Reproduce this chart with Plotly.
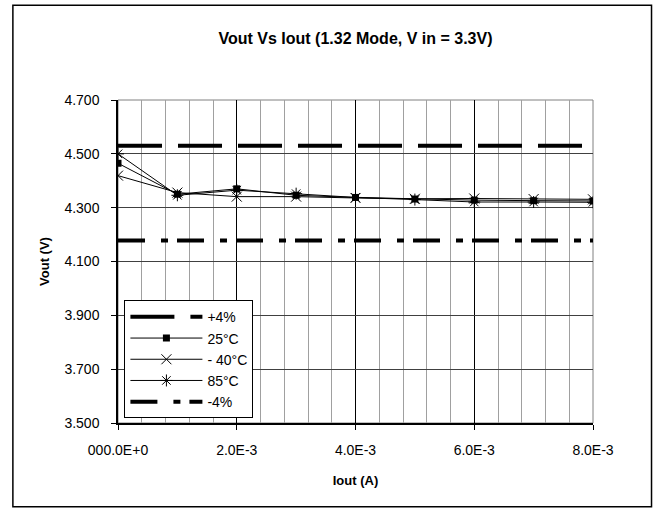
import plotly.graph_objects as go

# ---- data ----
iout = [0.0, 0.001, 0.002, 0.003, 0.004, 0.005, 0.006, 0.007, 0.008]
v_25c = [4.465, 4.350, 4.370, 4.346, 4.338, 4.332, 4.328, 4.326, 4.325]
v_m40c = [4.419, 4.356, 4.341, 4.341, 4.336, 4.333, 4.334, 4.332, 4.331]
v_85c = [4.500, 4.346, 4.365, 4.352, 4.338, 4.330, 4.321, 4.321, 4.320]
limit_x = [0.0, 0.008]
plus4 = [4.530, 4.530]
minus4 = [4.178, 4.178]

x_tickvals = [0.0, 0.002, 0.004, 0.006, 0.008]
x_ticktext = ["000.0E+0", "2.0E-3", "4.0E-3", "6.0E-3", "8.0E-3"]
y_tickvals = [3.5, 3.7, 3.9, 4.1, 4.3, 4.5, 4.7]
y_ticktext = ["3.500", "3.700", "3.900", "4.100", "4.300", "4.500", "4.700"]

FONT = "Liberation Sans, Arial, sans-serif"

fig = go.Figure()
fig.add_trace(go.Scatter(x=limit_x, y=plus4, mode="lines", name="+4%",
                         line=dict(color="black", width=4, dash="44px,16px")))
fig.add_trace(go.Scatter(x=iout, y=v_25c, mode="lines+markers", name="25°C",
                         line=dict(color="black", width=1),
                         marker=dict(symbol="square", size=7, color="black")))
fig.add_trace(go.Scatter(x=iout, y=v_m40c, mode="lines+markers", name="- 40°C",
                         line=dict(color="black", width=1),
                         marker=dict(symbol="x-thin-open", size=10, color="black",
                                     line=dict(color="black", width=1))))
fig.add_trace(go.Scatter(x=iout, y=v_85c, mode="lines+markers", name="85°C",
                         line=dict(color="black", width=1),
                         marker=dict(symbol="asterisk-open", size=10, color="black",
                                     line=dict(color="black", width=1))))
fig.add_trace(go.Scatter(x=limit_x, y=minus4, mode="lines", name="-4%",
                         line=dict(color="black", width=4, dash="27px,16px,7px,9px")))

# plot-area border (grey) and outer chart border (black)
fig.add_shape(type="rect", xref="paper", yref="paper", x0=0, x1=1, y0=0, y1=1,
              line=dict(color="#808080", width=1), layer="below")
fig.add_shape(type="rect", xref="paper", yref="paper",
              x0=-0.2213, x1=1.1232, y0=-0.2593, y1=1.2932,
              line=dict(color="black", width=1.5))

fig.update_layout(
    width=656, height=510,
    margin=dict(l=118, r=63, t=100, b=87),
    paper_bgcolor="white", plot_bgcolor="white",
    font=dict(family=FONT, size=13, color="black"),
    title=dict(text="<b>Vout Vs Iout (1.32 Mode, V in = 3.3V)</b>",
               x=(118 + 593) / 2 / 656, xanchor="center",
               y=1 - 38 / 510, yanchor="middle",
               font=dict(family=FONT, size=16, color="black")),
    showlegend=True,
    legend=dict(x=0.0135, y=0.38, xanchor="left", yanchor="top",
                bgcolor="white", bordercolor="black", borderwidth=1,
                font=dict(family=FONT, size=14, color="black"),
                tracegroupgap=0, itemwidth=72, entrywidth=62),
)

fig.update_xaxes(
    range=[0, 0.008],
    tickmode="array", tickvals=x_tickvals, ticktext=x_ticktext,
    ticks="outside", ticklen=5, tickcolor="black",
    showline=True, linecolor="black", linewidth=1.5,
    showgrid=True, gridcolor="black", gridwidth=1,
    minor=dict(dtick=0.0004, showgrid=True, gridcolor="#a0a0a0", gridwidth=1),
    zeroline=False,
    tickfont=dict(family=FONT, size=14),
    ticklabelstandoff=8,
    title=dict(text="<b>Iout (A)</b>", font=dict(family=FONT, size=13), standoff=19),
)
fig.update_yaxes(
    range=[3.5, 4.7],
    tickmode="array", tickvals=y_tickvals, ticktext=y_ticktext,
    ticks="outside", ticklen=5, tickcolor="black",
    showline=True, linecolor="black", linewidth=1.5,
    showgrid=True, gridcolor="#404040", gridwidth=1,
    zeroline=False,
    tickfont=dict(family=FONT, size=14),
    ticklabelstandoff=9,
    title=dict(text="<b>Vout (V)</b>", font=dict(family=FONT, size=13), standoff=12),
)

fig.write_html("out.html", config={"displayModeBar": False},
               post_script="document.body.style.margin='0';")
